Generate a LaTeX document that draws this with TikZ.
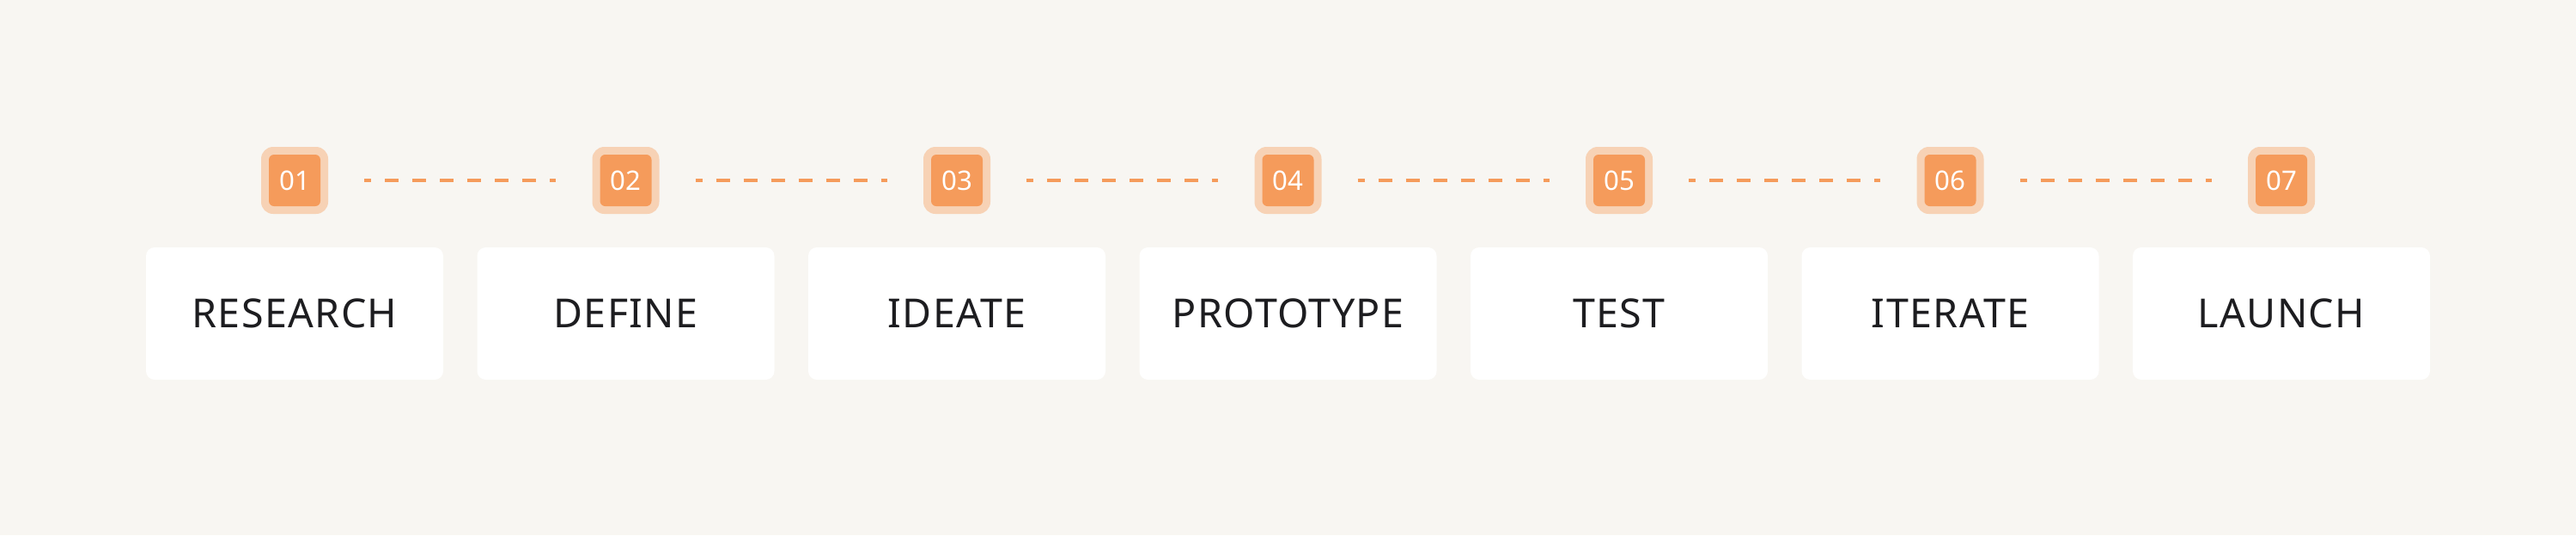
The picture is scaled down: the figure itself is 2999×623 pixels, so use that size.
\documentclass[tikz,border=0pt]{standalone}
\usepackage{fontspec}
\setmainfont{Noto Sans}
\newfontfamily\lblfont[LetterSpace=3]{Noto Sans}
\definecolor{bgc}{HTML}{F8F6F2}
\definecolor{orng}{HTML}{F59B5B}
\definecolor{lorng}{HTML}{F7D2B5}
\definecolor{txtc}{HTML}{1D1D20}
\tikzset{
  stepbox/.style={fill=white, draw=none, rounded corners=5pt, minimum width=173pt, minimum height=77pt, inner sep=0pt, text=txtc, font=\lblfont\fontsize{23.3}{28}\selectfont},
  badgeout/.style={fill=lorng, draw=none, rounded corners=7pt, minimum size=39pt, inner sep=0pt},
  badgein/.style={fill=orng, draw=none, rounded corners=3pt, minimum size=30pt, inner sep=0pt, text=white, font=\fontsize{15.6}{18}\selectfont},
  dashline/.style={draw=orng, line width=1.75pt, dash pattern=on 8pt off 8pt, dash phase=4pt}
}
\begin{document}
\begin{tikzpicture}[x=0.5pt, y=-0.5pt]
\fill[bgc] (0,0) rectangle (2999,623);
\useasboundingbox (0,0) rectangle (2999,623);
\foreach \i/\lab in {1/RESEARCH,2/DEFINE,3/IDEATE,4/PROTOTYPE,5/TEST,6/ITERATE,7/LAUNCH}{
  \pgfmathsetmacro{\cx}{343+385.5*(\i-1)}
  \node[stepbox] (s\i) at (\cx,365) {\lab};
  \node[badgeout] (o\i) at (\cx,210) {};
  \node[badgein] (b\i) at (\cx,210) {0\i};
}
\foreach \i [evaluate=\i as \j using int(\i+1)] in {1,...,6}{
  \draw[dashline] ([xshift=20.9pt]o\i.east) -- ([xshift=-20.9pt]o\j.west);
}
\end{tikzpicture}
\end{document}
